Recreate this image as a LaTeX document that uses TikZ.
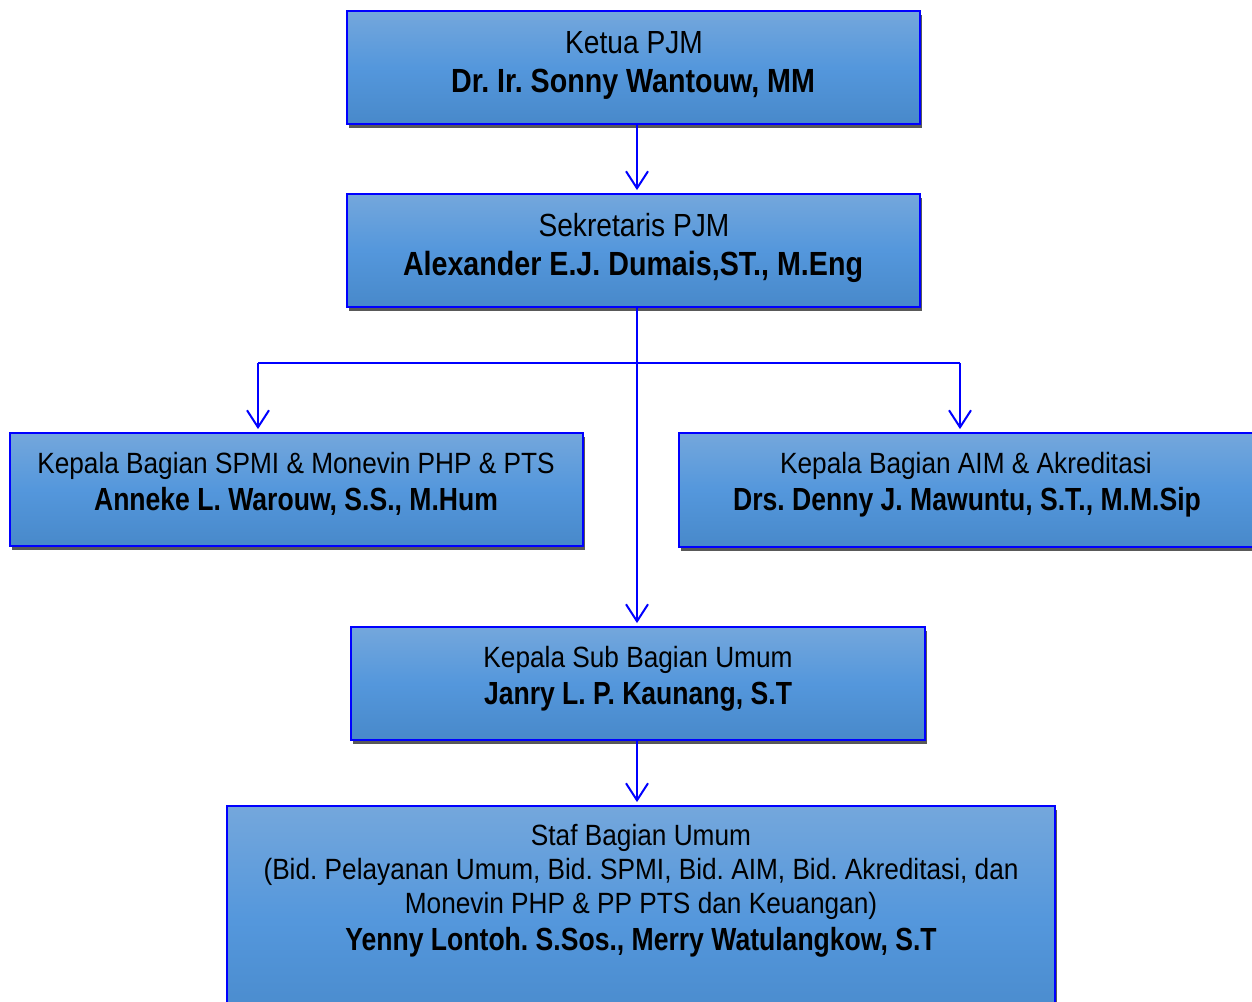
\documentclass[tikz,border=0pt]{standalone}
\usepackage{fontspec}
\newfontfamily\nr[FakeStretch=0.895]{Liberation Sans}
\newfontfamily\nrL[FakeStretch=0.88]{Liberation Sans}
\newfontfamily\nbA[FakeStretch=0.855]{Liberation Sans}
\newfontfamily\nbB[FakeStretch=0.83]{Liberation Sans}
\usetikzlibrary{arrows.meta,shadows}
\definecolor{bline}{RGB}{0,0,255}
\definecolor{gtop}{RGB}{116,167,220}
\definecolor{gmid}{RGB}{84,151,220}
\definecolor{gbot}{RGB}{72,137,202}
\frenchspacing
\tikzset{
  orgbox/.style={rectangle, draw=bline, line width=1.8pt, top color=gtop, bottom color=gbot, middle color=gmid,
    drop shadow={shadow xshift=2pt, shadow yshift=-4pt, fill=black!65, opacity=1}, inner sep=0pt},
  tr/.style={anchor=base, inner sep=0pt, font=\nr\fontsize{29.3}{33}\selectfont},
  trL/.style={anchor=base, inner sep=0pt, font=\nrL\fontsize{32}{36}\selectfont},
  tb/.style={anchor=base, inner sep=0pt, font=\nbB\bfseries\fontsize{32}{36}\selectfont},
  tbL/.style={anchor=base, inner sep=0pt, font=\nbA\bfseries\fontsize{33.5}{38}\selectfont},
  conn/.style={draw=bline, line width=2pt},
  arr/.style={conn, -{Straight Barb[length=17pt,width=22pt,line width=2pt]}, shorten >=3pt}
}
\begin{document}
\begin{tikzpicture}[x=1pt,y=-1pt]
\useasboundingbox (0,0) rectangle (1252,1001);
\clip (0,0) rectangle (1252,1001);
% boxes
\node[orgbox, minimum width=573pt, minimum height=113pt] (b1) at (633.5,67.5) {};
\node[orgbox, minimum width=573pt, minimum height=113pt] (b2) at (633.5,250.5) {};
\node[orgbox, minimum width=573pt, minimum height=113pt] (b3) at (296.5,489.5) {};
\node[orgbox, minimum width=576pt, minimum height=114pt] (b4) at (967,490) {};
\node[orgbox, minimum width=574pt, minimum height=113pt] (b5) at (638,683.5) {};
\node[orgbox, minimum width=828pt, minimum height=230pt] (b6) at (641,921) {};
% texts
\node[trL] (t1a) at (634,53) {Ketua PJM};
\node[tbL] (t1b) at (633,92) {Dr. Ir. Sonny Wantouw, MM};
\node[trL] (t2a) at (634,236) {Sekretaris PJM};
\node[tbL] (t2b) at (633,275) {Alexander E.J. Dumais,ST., M.Eng};
\node[tr] (t3a) at (296,473) {Kepala Bagian SPMI \& Monevin PHP \& PTS};
\node[tb] (t3b) at (296,510) {Anneke L. Warouw, S.S., M.Hum};
\node[tr] (t4a) at (966,473) {Kepala Bagian AIM \& Akreditasi};
\node[tb] (t4b) at (967,510) {Drs. Denny J. Mawuntu, S.T., M.M.Sip};
\node[tr] (t5a) at (638,667) {Kepala Sub Bagian Umum};
\node[tb] (t5b) at (638,704) {Janry L. P. Kaunang, S.T};
\node[tr] (t6a) at (641,845) {Staf Bagian Umum};
\node[tr] (t6b) at (641,879) {(Bid. Pelayanan Umum, Bid. SPMI, Bid. AIM, Bid. Akreditasi, dan};
\node[tr] (t6c) at (641,913) {Monevin PHP \& PP PTS dan Keuangan)};
\node[tb] (t6d) at (641,950) {Yenny Lontoh. S.Sos., Merry Watulangkow, S.T};
% connectors
\coordinate (jl) at (258,363);
\coordinate (jr) at (960,363);
\draw[arr] (b1.south -| 637,0) -- (b2.north -| 637,0);
\draw[arr] (b2.south -| 637,0) -- (b5.north -| 637,0);
\draw[conn] (jl) -- (jr);
\draw[arr] (jl) -- (b3.north -| jl);
\draw[arr] (jr) -- (b4.north -| jr);
\draw[arr] (b5.south -| 637,0) -- (b6.north -| 637,0);
\end{tikzpicture}
\end{document}
